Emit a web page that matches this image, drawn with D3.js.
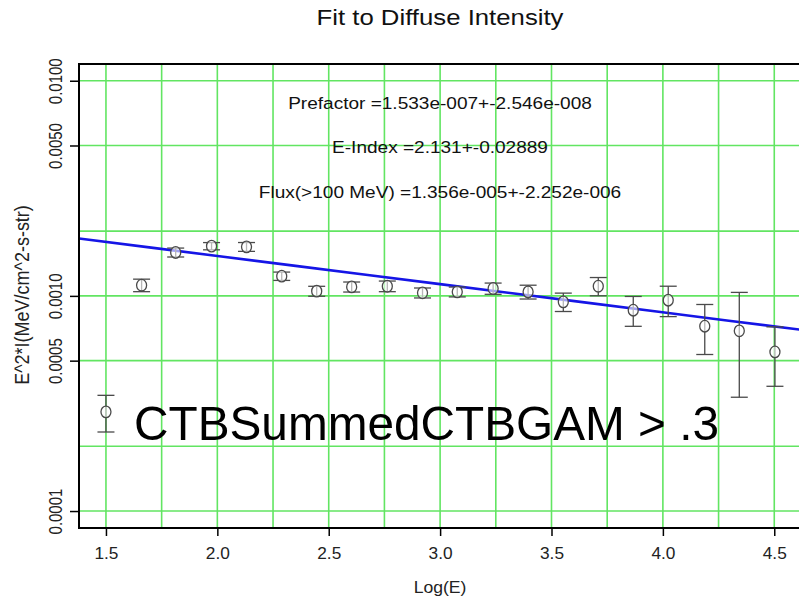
<!DOCTYPE html>
<html>
<head>
<meta charset="utf-8">
<script src="https://cdn.jsdelivr.net/npm/d3@7/dist/d3.min.js"></script>
<style>
  html, body { margin: 0; padding: 0; background: #fff; }
  svg { display: block; font-family: "Liberation Sans", Arial, sans-serif; }
</style>
</head>
<body>
<svg id="chart" width="799" height="603"></svg>
<script>
// Binned diffuse intensity, E^2*I in MeV/cm^2-s-str, against log10(E/MeV)
const logE   = [1.500, 1.660, 1.813, 1.974, 2.131, 2.289, 2.446, 2.603, 2.763, 2.921,
                3.077, 3.238, 3.395, 3.553, 3.710, 3.867, 4.024, 4.188, 4.343, 4.503];
const e2i    = [2.89e-4, 1.121e-3, 1.592e-3, 1.703e-3, 1.690e-3, 1.235e-3, 1.052e-3, 1.101e-3, 1.109e-3, 1.033e-3,
                1.044e-3, 1.082e-3, 1.044e-3, 0.938e-3, 1.109e-3, 0.858e-3, 0.955e-3, 0.723e-3, 0.688e-3, 0.549e-3];
const e2iErr = [5.6e-5, 7.5e-5, 7.6e-5, 6.6e-5, 8.0e-5, 5.5e-5, 5.6e-5, 5.9e-5, 6.3e-5, 5.5e-5,
                5.5e-5, 6.5e-5, 7.7e-5, 9.2e-5, 1.08e-4, 1.36e-4, 1.54e-4, 1.89e-4, 3.5e-4, 1.69e-4];

// Power-law fit results (pivot at 100 MeV)
const prefactor = 1.533e-7, prefactorErr = 2.546e-8;
const eIndex = 2.131, eIndexErr = 0.02889;
const flux100 = 1.356e-5, flux100Err = 2.252e-6;
const pivotMeV = 100;

// Axis ticks and grid
const xTicks = [1.5, 2.0, 2.5, 3.0, 3.5, 4.0, 4.5];
const xGrid  = [1.5, 1.75, 2.0, 2.25, 2.5, 2.75, 3.0, 3.25, 3.5, 3.75, 4.0, 4.25, 4.5];
const yTicks = [0.0001, 0.0005, 0.0010, 0.0050, 0.0100];
const yGrid  = [0.0001, 0.0002, 0.0005, 0.0010, 0.0020, 0.0050, 0.0100];

const title  = "Fit to Diffuse Intensity";
const xTitle = "Log(E)";
const yTitle = "E^2*I(MeV/cm^2-s-str)";
const cutLabel = "CTBSummedCTBGAM > .3";

// Old-style exponent formatting, e.g. 1.533e-007
function fmtE(v) {
  const [m, e] = v.toExponential(3).split("e");
  const n = Math.abs(+e);
  return m + "e" + (+e < 0 ? "-" : "+") + String(n).padStart(3, "0");
}
const fitLines = [
  "Prefactor =" + fmtE(prefactor) + "+-" + fmtE(prefactorErr),
  "E-Index =" + eIndex + "+-" + eIndexErr,
  "Flux(>100 MeV) =" + fmtE(flux100) + "+-" + fmtE(flux100Err)
];

const svg = d3.select("#chart");
const pL = 79, pT = 64, pR = 801, pB = 528;
const cx = (pL + pR) / 2;
const stretch = 1.19;   // the plot's lettering is drawn slightly wide

const x = d3.scaleLinear().domain([1.379, 4.62]).range([pL, pR]);
const y = d3.scaleLog().domain([8.34e-5, 0.01196]).range([pB, pT]);

svg.append("defs").append("clipPath").attr("id", "plotClip")
  .append("rect").attr("x", pL).attr("y", pT)
  .attr("width", pR - pL).attr("height", pB - pT);

const plot = svg.append("g").attr("clip-path", "url(#plotClip)");
const gridColor = "#62e562";

// grid
plot.selectAll("line.vg").data(xGrid).join("line")
  .attr("x1", d => x(d)).attr("x2", d => x(d))
  .attr("y1", pT).attr("y2", pB)
  .attr("stroke", gridColor).attr("stroke-width", 1.6);
plot.selectAll("line.hg").data(yGrid).join("line")
  .attr("y1", d => y(d)).attr("y2", d => y(d))
  .attr("x1", pL).attr("x2", pR)
  .attr("stroke", gridColor).attr("stroke-width", 1.6);

// fit annotations
svg.append("g").selectAll("text").data(fitLines).join("text")
  .attr("transform", (d, i) => `translate(${cx},${109 + i * 44.3}) scale(${stretch},1)`)
  .attr("text-anchor", "middle")
  .attr("font-size", 16)
  .attr("fill", "#111")
  .text(d => d);

// fitted power law: E^2 dN/dE = N0 * Ep^index * E^(2-index)
const fitE2I = le => prefactor * Math.pow(pivotMeV, eIndex) * Math.pow(10, le * (2 - eIndex));
const fitX = x.domain();
plot.append("path")
  .datum(d3.range(0, 11).map(i => fitX[0] + (fitX[1] - fitX[0]) * i / 10))
  .attr("fill", "none")
  .attr("stroke", "#1515e6")
  .attr("stroke-width", 2.6)
  .attr("d", d3.line().x(d => x(d)).y(d => y(fitE2I(d))));

// data points with error bars
const pts = logE.map((le, i) => ({ le, v: e2i[i], err: e2iErr[i] }));
const capHalf = 8.5;
const pg = plot.append("g").attr("stroke", "#4a4a4a").attr("stroke-width", 1.3).attr("fill", "none");
const g = pg.selectAll("g").data(pts).join("g");
g.append("line")
  .attr("x1", d => x(d.le)).attr("x2", d => x(d.le))
  .attr("y1", d => y(d.v + d.err)).attr("y2", d => y(d.v - d.err));
g.append("line")
  .attr("x1", d => x(d.le) - capHalf).attr("x2", d => x(d.le) + capHalf)
  .attr("y1", d => y(d.v + d.err)).attr("y2", d => y(d.v + d.err));
g.append("line")
  .attr("x1", d => x(d.le) - capHalf).attr("x2", d => x(d.le) + capHalf)
  .attr("y1", d => y(d.v - d.err)).attr("y2", d => y(d.v - d.err));
g.append("ellipse")
  .attr("cx", d => x(d.le)).attr("cy", d => y(d.v))
  .attr("rx", 5).attr("ry", 5.8)
  .attr("fill", "#fff").attr("fill-opacity", 0.6);

// cut label
svg.append("text")
  .attr("x", 134).attr("y", 440)
  .attr("font-size", 49)
  .attr("textLength", 585).attr("lengthAdjust", "spacingAndGlyphs")
  .attr("fill", "#000")
  .text(cutLabel);

// frame
svg.append("path")
  .attr("d", `M${pR},${pT}H${pL}V${pB}H${pR}`)
  .attr("fill", "none").attr("stroke", "#000").attr("stroke-width", 2);

// x axis
const xAxis = svg.append("g").attr("transform", `translate(0,${pB})`)
  .call(d3.axisBottom(x).tickValues(xTicks).tickFormat(d3.format(".1f")).tickSize(8).tickPadding(12));
xAxis.select(".domain").remove();
xAxis.selectAll(".tick line").attr("stroke", "#000").attr("stroke-width", 1.5);
xAxis.selectAll(".tick text").attr("font-size", 16).attr("fill", "#222")
  .attr("font-family", "\"Liberation Sans\", Arial, sans-serif")
  .attr("transform", "scale(1.08,1)");

// y axis
const yAxis = svg.append("g").attr("transform", `translate(${pL},0)`)
  .call(d3.axisLeft(y).tickValues(yTicks).tickFormat(d3.format(".4f")).tickSize(9));
yAxis.select(".domain").remove();
yAxis.selectAll(".tick line").attr("stroke", "#000").attr("stroke-width", 1.5);
yAxis.selectAll(".tick text")
  .attr("font-size", 15).attr("fill", "#222")
  .attr("font-family", "\"Liberation Sans\", Arial, sans-serif")
  .attr("text-anchor", "middle")
  .attr("x", 0).attr("dy", null).attr("y", 0)
  .attr("transform", `translate(-17,0) scale(${stretch},1) rotate(-90)`);

// titles
svg.append("text").attr("transform", `translate(${cx},25) scale(1.17,1)`)
  .attr("text-anchor", "middle").attr("font-size", 22).attr("fill", "#111").text(title);
svg.append("text").attr("transform", `translate(${cx},593) scale(1.1,1)`)
  .attr("text-anchor", "middle").attr("font-size", 16).attr("fill", "#222").text(xTitle);
svg.append("text").attr("transform", `translate(29,${(pT + pB) / 2 - 1}) scale(1.15,1) rotate(-90)`)
  .attr("text-anchor", "middle").attr("font-size", 18).attr("fill", "#222").text(yTitle);
</script>
</body>
</html>
